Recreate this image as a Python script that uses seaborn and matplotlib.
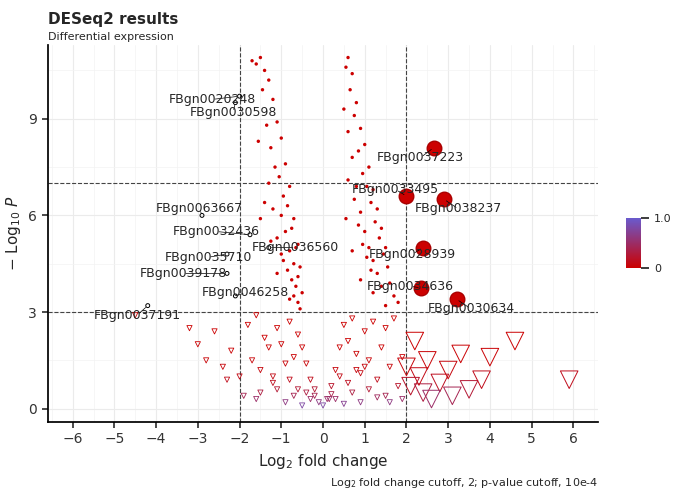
import numpy as np
import seaborn as sns
import matplotlib.pyplot as plt
from matplotlib.colors import LinearSegmentedColormap

# significant small dots (left / right arms of the volcano)
left_x = [-1.5, -1.4, -1.3, -1.2, -1.1, -1.0, -0.9, -0.8, -0.7, -0.6, -1.45, -1.35, -1.25, -1.15, -1.05,
          -0.95, -0.85, -0.75, -0.65, -0.55, -1.6, -1.3, -1.0, -0.9, -0.8, -0.7, -1.2, -1.1, -0.6, -0.5,
          -1.55, -1.4, -1.0, -0.85, -0.75, -0.65, -1.25, -0.95, -0.7, -0.6, -1.5, -1.1, -0.8, -0.55, -1.7]
left_y = [10.9, 10.5, 10.2, 9.6, 8.9, 8.4, 7.6, 6.9, 5.9, 5.1, 9.9, 8.8, 8.1, 7.5, 7.2,
          6.6, 6.3, 5.6, 5.0, 4.4, 10.7, 7.0, 6.0, 5.5, 4.9, 4.5, 6.2, 5.3, 4.1, 3.6,
          8.3, 6.4, 4.8, 4.3, 4.0, 3.8, 5.2, 4.6, 3.5, 3.3, 5.9, 4.2, 3.4, 3.1, 10.8]
right_x = [0.6, 0.7, 0.8, 0.9, 1.0, 1.1, 1.2, 1.3, 1.4, 1.5, 0.65, 0.75, 0.85, 0.95, 1.05,
           1.15, 1.25, 1.35, 1.45, 1.55, 0.55, 0.6, 0.7, 0.8, 0.9, 1.0, 1.1, 1.2, 1.3, 1.6,
           0.5, 0.6, 0.75, 0.85, 0.95, 1.05, 1.15, 1.4, 1.7, 1.8, 0.55, 0.7, 0.9, 1.2, 1.5]
right_y = [10.9, 10.4, 9.5, 8.7, 8.2, 7.5, 6.8, 6.2, 5.6, 5.0, 9.9, 9.1, 8.0, 7.3, 6.9,
           6.4, 5.8, 5.3, 4.8, 4.4, 10.6, 8.6, 7.8, 6.9, 6.1, 5.5, 5.0, 4.6, 4.2, 3.9,
           9.3, 7.1, 6.5, 5.7, 5.1, 4.7, 4.3, 3.8, 3.5, 3.3, 5.9, 4.9, 4.0, 3.6, 3.2]

# non-significant triangles (bottom of the volcano)
ns_x = [-4.5, -3.2, -3.0, -2.6, -2.4, -2.2, -2.0, -1.8, -1.7, -1.6, -1.5, -1.4, -1.3, -1.2, -1.1,
        -1.0, -0.9, -0.8, -0.7, -0.6, -0.5, -0.4, -0.3, -0.2, -0.1, 0.0, 0.1, 0.2, 0.3, 0.4,
        0.5, 0.6, 0.7, 0.8, 0.9, 1.0, 1.1, 1.2, 1.3, 1.4, 1.5, 1.6, 1.7, 1.8, 1.9,
        -1.9, -1.5, -1.1, -0.7, -0.3, 0.3, 0.7, 1.1, 1.5, 1.9, -2.8, -2.3, -1.6, -0.9, -0.5,
        0.5, 0.9, 1.3, 1.6, -1.2, -0.8, -0.4, 0.2, 0.6, 1.0, -0.6, -0.2, 0.15, 0.4, 0.8]
ns_y = [2.9, 2.5, 2.0, 2.4, 1.3, 1.8, 1.0, 2.6, 1.5, 2.9, 1.2, 2.2, 1.9, 0.8, 2.5,
        2.0, 1.4, 2.7, 1.6, 2.3, 1.9, 1.4, 0.9, 0.6, 0.2, 0.1, 0.3, 0.7, 1.2, 1.9,
        2.6, 2.1, 2.8, 1.7, 1.1, 2.4, 1.5, 2.7, 0.9, 1.9, 2.5, 1.3, 2.8, 0.7, 1.6,
        0.4, 0.5, 0.6, 0.4, 0.3, 0.3, 0.5, 0.6, 0.4, 0.3, 1.5, 0.9, 0.3, 0.2, 0.1,
        0.15, 0.2, 0.35, 0.2, 1.0, 0.9, 0.5, 0.45, 0.8, 1.3, 0.6, 0.4, 0.3, 1.0, 1.2]

# large fold-change triangles (right side)
big_tri_x = [2.0, 2.2, 2.4, 2.5, 2.8, 3.0, 3.3, 3.5, 3.8, 4.0, 4.6, 5.9, 2.6, 3.1, 2.3, 2.1]
big_tri_y = [1.3, 2.1, 0.5, 1.5, 0.8, 1.2, 1.7, 0.6, 0.9, 1.6, 2.1, 0.9, 0.3, 0.4, 1.0, 0.7]

# labelled genes
gene_ids = ['FBgn0020248', 'FBgn0030598', 'FBgn0037223', 'FBgn0033495', 'FBgn0038237',
            'FBgn0063667', 'FBgn0032436', 'FBgn0036560', 'FBgn0035710', 'FBgn0039178',
            'FBgn0046258', 'FBgn0037191', 'FBgn0028939', 'FBgn0034636', 'FBgn0030634']
gene_x = [-2.0, -2.1, 2.65, 2.0, 2.9, -2.9, -1.75, -1.3, -2.3, -2.3, -2.1, -4.2, 2.4, 2.35, 3.2]
gene_y = [9.7, 9.5, 8.1, 6.6, 6.5, 6.0, 5.4, 5.0, 4.8, 4.2, 3.5, 3.2, 5.0, 3.75, 3.4]
label_x = [-3.7, -3.2, 1.3, 0.7, 2.2, -4.0, -3.6, -1.7, -3.8, -4.4, -2.9, -5.5, 1.1, 1.05, 2.5]
label_y = [9.6, 9.2, 7.8, 6.8, 6.2, 6.2, 5.5, 5.0, 4.7, 4.2, 3.6, 2.9, 4.8, 3.8, 3.1]

cmap = LinearSegmentedColormap.from_list('pv', ['#cc0000', '#6a5acd'])

def pcol(y):
    return cmap(np.power(10.0, -np.asarray(y)))

sns.set_theme(style='whitegrid')
fig, ax = plt.subplots(figsize=(6.8, 4.96), dpi=100)
fig.subplots_adjust(left=0.07, right=0.88, top=0.91, bottom=0.15)

ax.scatter(ns_x, ns_y, marker='v', s=14, facecolors='none', edgecolors=pcol(ns_y), linewidths=0.6, zorder=2)
ax.scatter(big_tri_x, big_tri_y, marker='v', s=160, facecolors='none', edgecolors=pcol(big_tri_y), linewidths=0.7, zorder=2)
ax.scatter(left_x + right_x, left_y + right_y, s=6, c=pcol(left_y + right_y), linewidths=0, zorder=3)
gx = np.array(gene_x); gy = np.array(gene_y)
big = np.abs(gx) >= 2.0
big[[0, 1, 5, 8, 9, 10, 11]] = False
ax.scatter(gx[big], gy[big], s=110, c='#cc0000', edgecolors='#aa0000', zorder=4)
ax.scatter(gx[~big], gy[~big], s=8, facecolors='none', edgecolors='black', linewidths=0.7, zorder=4)
for g, x, y, lx, ly in zip(gene_ids, gene_x, gene_y, label_x, label_y):
    ax.annotate(g, (x, y), (lx, ly), fontsize=9, zorder=5, va='center',
                arrowprops=dict(arrowstyle='-', lw=0.5, color='black'))

for v in (-2, 2):
    ax.axvline(v, ls='--', color='#444444', lw=0.8, zorder=1)
for h in (3, 7):
    ax.axhline(h, ls='--', color='#444444', lw=0.8, zorder=1)

ax.set_xlim(-6.6, 6.6)
ax.set_ylim(-0.4, 11.3)
ax.set_xticks(range(-6, 7))
ax.set_yticks([0, 3, 6, 9])
ax.tick_params(labelsize=10, colors='#333333', length=4, left=True, bottom=True)
ax.grid(color='#ebebeb', lw=0.8)
ax.set_xticks(np.arange(-6.5, 7, 1), minor=True)
ax.set_yticks([1.5, 4.5, 7.5, 10.5], minor=True)
ax.grid(which='minor', color='#f3f3f3', lw=0.5)
for s in ('top', 'right'):
    ax.spines[s].set_visible(False)
for s in ('left', 'bottom'):
    ax.spines[s].set_color('black')
ax.set_xlabel('Log$_2$ fold change', fontsize=11)
ax.set_ylabel('$-$ Log$_{10}$ $P$', fontsize=11)

cax = fig.add_axes([0.92, 0.46, 0.022, 0.1])
sm = plt.cm.ScalarMappable(cmap=cmap, norm=plt.Normalize(0, 1))
cb = fig.colorbar(sm, cax=cax, ticks=[0, 1])
cb.ax.set_yticklabels(['0', '1.0'], fontsize=8)
cb.outline.set_visible(False)

fig.text(0.07, 0.975, 'DESeq2 results', fontsize=11, fontweight='bold', va='top')
fig.text(0.07, 0.935, 'Differential expression', fontsize=8, va='top')
fig.text(0.88, 0.02, 'Log$_2$ fold change cutoff, 2; p-value cutoff, 10e-4', fontsize=8, ha='right')

fig.savefig('out.png', dpi=100)
